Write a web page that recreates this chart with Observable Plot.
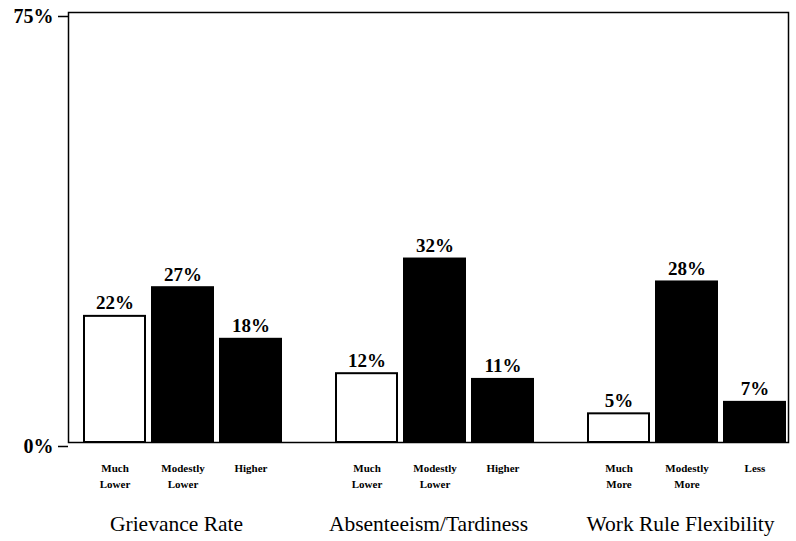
<!DOCTYPE html>
<html>
<head>
<meta charset="utf-8">
<script src="https://cdn.jsdelivr.net/npm/d3@7"></script>
<script src="https://cdn.jsdelivr.net/npm/@observablehq/plot@0.6"></script>
<style>
  html, body { margin: 0; padding: 0; background: #fff; }
  #chart { width: 796px; height: 541px; }
</style>
</head>
<body>
<div id="chart"></div>
<script>
const groups = ["Grievance Rate", "Absenteeism/Tardiness", "Work Rule Flexibility"];
const responses = [
  ["Much\nLower", "Modestly\nLower", "Higher"],
  ["Much\nLower", "Modestly\nLower", "Higher"],
  ["Much\nMore", "Modestly\nMore", "Less"]
];
const percents = [
  [22, 27, 18],
  [12, 32, 11],
  [5, 28, 7]
];
const yTicks = [0, 75];

const rows = groups.flatMap((g, i) =>
  responses[i].map((r, j) => ({group: g, slot: j, label: r, value: percents[i][j]}))
);

const chart = Plot.plot({
  width: 796,
  height: 541,
  marginLeft: 67,
  marginRight: 8,
  marginTop: 12,
  marginBottom: 99,
  facet: {marginLeft: 0, marginRight: 0, marginTop: 12, marginBottom: 99},
  style: {fontFamily: "'Liberation Serif', 'Times New Roman', serif", color: "black", background: "white"},
  fx: {domain: groups, range: [67, 788], paddingInner: 0.1446, paddingOuter: 0, axis: null, label: null},
  x: {type: "band", domain: [0, 1, 2], range: [82, 280], paddingInner: 0.11, paddingOuter: 0, axis: null},
  y: {domain: [0, 75], range: [442, 12], axis: null},
  color: {domain: [0, 1, 2], range: ["white", "black", "black"]},
  marks: [
    Plot.frame({facet: "super", stroke: "black", strokeWidth: 1.5}),
    Plot.axisY({facetAnchor: "left", ticks: yTicks, tickFormat: d => d + "%", tickSize: 10, tickPadding: 5,
      fontSize: 20, fontWeight: "bold", label: null, dy: 4, strokeWidth: 1.5}),
    Plot.barY(rows, {fx: "group", x: "slot", y: "value", fill: "slot", stroke: "black", strokeWidth: 2}),
    Plot.text(rows, {fx: "group", x: "slot", y: "value", text: d => d.value + "%", dy: -7,
      lineAnchor: "bottom", fontSize: 19, fontWeight: "bold"}),
    Plot.text(rows, {fx: "group", x: "slot", y: () => 0, text: "label", dy: 19,
      lineAnchor: "top", fontSize: 11, fontWeight: "bold", lineHeight: 1.4}),
    Plot.axisFx({anchor: "bottom", tickSize: 0, tickPadding: 73, fontSize: 21.5, label: null})
  ]
});
document.getElementById("chart").appendChild(chart);
</script>
</body>
</html>
